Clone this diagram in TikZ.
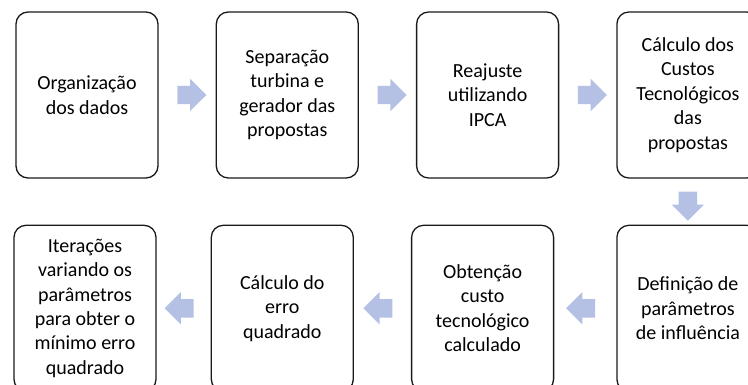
\documentclass[tikz,border=0pt]{standalone}
\usepackage{fontspec}
\setmainfont{Carlito}
\usepackage{tikz}
\usetikzlibrary{calc}
\usetikzlibrary{positioning, shapes.arrows}
\definecolor{setacor}{RGB}{180,193,228}
\tikzstyle{etapa} = [rectangle, rounded corners=12pt, minimum width=142pt, minimum height=166pt, inner sep=0pt, text centered, align=center, draw=black!90, line width=1.3pt, font=\fontsize{20}{24.4}\selectfont]
\tikzstyle{seta} = [single arrow, fill=setacor, draw=none, minimum height=29pt, minimum width=29pt, inner xsep=0pt, inner ysep=9pt, single arrow head extend=7pt, single arrow tip angle=90]
\tikzstyle{setabaixo} = [seta, shape border rotate=270, inner xsep=9pt, inner ysep=0pt]

\begin{document}
\begin{tikzpicture}[node distance=57pt]
\useasboundingbox (0,0) rectangle (748pt,-385pt);

\node (org) [etapa] at (87pt,-95pt) {Organização\\dos dados};
\node (sep) [etapa, right=of org] {Separação\\turbina e\\gerador das\\propostas};
\node (rea) [etapa, right=of sep] {Reajuste\\utilizando\\IPCA};
\node (cus) [etapa, right=of rea] {Cálculo dos\\Custos\\Tecnológicos\\das\\propostas};
\node (def) [etapa, below=46pt of cus] {Definição de\\parâmetros\\de influência};
\node (obt) [etapa, left=62pt of def] {Obtenção\\custo\\tecnológico\\calculado};
\node (err) [etapa, left=57pt of obt] {Cálculo do\\erro\\quadrado};
\node (ite) [etapa, left=54pt of err] {Iterações\\variando os\\parâmetros\\para obter o\\mínimo erro\\quadrado};

%\node (s0) [seta] at (0,0) {};
\node (s1) [seta] at ($(org.east)!0.5!(sep.west)$) {};
\node (s2) [seta] at ($(sep.east)!0.5!(rea.west)$) {};
\node (s3) [seta] at ($(rea.east)!0.5!(cus.west)$) {};
\node (s4) [setabaixo] at ($(cus.south)!0.5!(def.north)$) {};
\node (s5) [seta, shape border rotate=180] at ($(def.west)!0.5!(obt.east)$) {};
\node (s6) [seta, shape border rotate=180] at ($(obt.west)!0.5!(err.east)$) {};
\node (s7) [seta, shape border rotate=180] at ($(err.west)!0.5!(ite.east)$) {};
\end{tikzpicture}
\end{document}
